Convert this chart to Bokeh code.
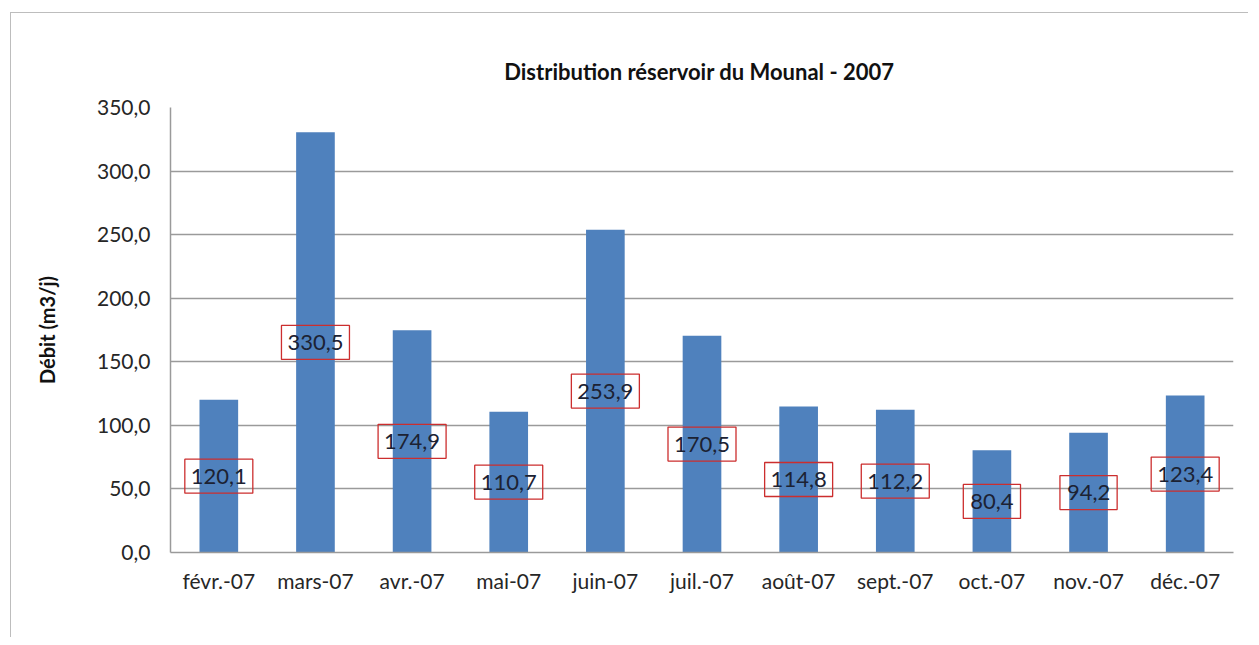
from bokeh.plotting import figure
from bokeh.layouts import column
from bokeh.models import ColumnDataSource, FixedTicker, Title
from bokeh.core.properties import value
from bokeh.embed import file_html
from bokeh.resources import INLINE

months = ["févr.-07", "mars-07", "avr.-07", "mai-07", "juin-07", "juil.-07",
          "août-07", "sept.-07", "oct.-07", "nov.-07", "déc.-07"]
debit = [120.1, 330.5, 174.9, 110.7, 253.9, 170.5, 114.8, 112.2, 80.4, 94.2, 123.4]
y_ticks = [0, 50, 100, 150, 200, 250, 300, 350]
y_tick_labels = ["0,0", "50,0", "100,0", "150,0", "200,0", "250,0", "300,0", "350,0"]
title_text = "Distribution réservoir  du Mounal - 2007"
y_title = "Débit (m3/j)"

FONT = "Lato"

labels = [f"{v:.1f}".replace(".", ",") for v in debit]
src = ColumnDataSource(dict(
    x=months, top=debit, mid=[v / 2 for v in debit], label=labels,
    bw=[14 + 10.8 * len(s) for s in labels],
))

p = figure(x_range=months, y_range=(0, 350), width=1237, height=624,
           output_backend="svg", toolbar_location=None,
           min_border_left=159, min_border_right=15, min_border_top=94,
           min_border_bottom=85)
p.background_fill_color = "white"
p.border_fill_color = "white"
p.outline_line_color = None

p.vbar(x="x", top="top", width=0.4, source=src, fill_color="#4F81BD",
       line_color=None)
p.rect(x="x", y="mid", width="bw", height=34, width_units="screen",
       height_units="screen", source=src, fill_color=None,
       line_color="#CC2E2E", line_width=1.3)
p.text(x="x", y="mid", text="label", source=src, text_align="center",
       text_baseline="middle", text_font=value(FONT), text_font_size="22px",
       text_color="#1C2233")

# axes
p.yaxis.ticker = FixedTicker(ticks=y_ticks)
p.yaxis.major_label_overrides = {t: l for t, l in zip(y_ticks, y_tick_labels)}
for ax in (p.xaxis[0], p.yaxis[0]):
    ax.axis_line_color = "#9A9A9A"
    ax.axis_line_width = 1.5
    ax.major_tick_line_color = None
    ax.minor_tick_line_color = None
    ax.major_label_text_font = FONT
    ax.major_label_text_font_size = "21px"
    ax.major_label_text_color = "#262626"
p.yaxis.major_label_standoff = 14
p.xaxis.major_label_standoff = 9
p.yaxis.axis_label = y_title
p.yaxis.axis_label_text_font = FONT
p.yaxis.axis_label_text_font_style = "bold"
p.yaxis.axis_label_text_font_size = "20px"
p.yaxis.axis_label_text_color = "#111111"
p.yaxis.axis_label_standoff = 35

p.xgrid.grid_line_color = None
p.ygrid.grid_line_color = "#9A9A9A"
p.ygrid.grid_line_width = 1.5

p.title = Title(text=title_text, align="center", text_font=FONT,
                text_font_size="22px", text_font_style="bold",
                text_color="#111111", standoff=46)

layout = column(p, margin=(12, 0, 0, 10),
                styles={"border-left": "1px solid #BDBDBD",
                        "border-top": "1px solid #BDBDBD"})

open("out.html", "w").write(file_html(layout, INLINE))
